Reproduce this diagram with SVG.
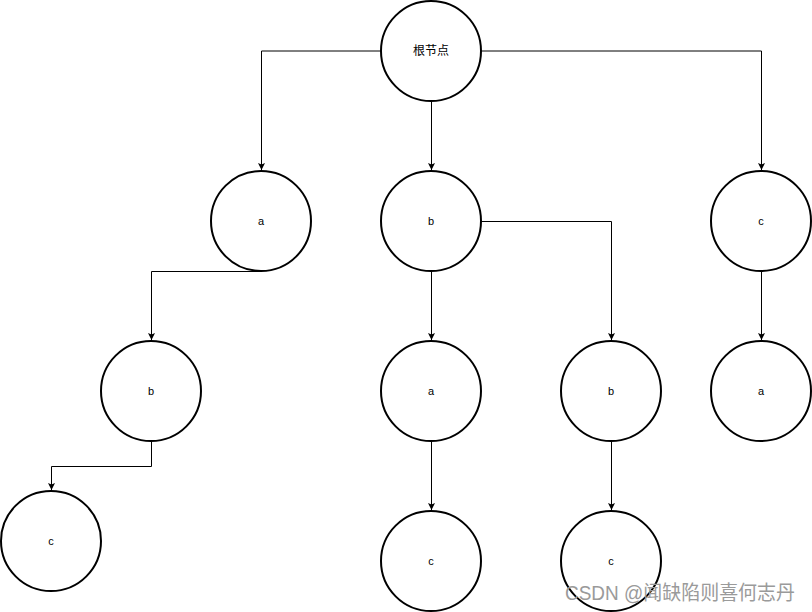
<svg xmlns="http://www.w3.org/2000/svg" width="812" height="612" viewBox="0 0 812 612">
<style>
.n circle{fill:#fff;stroke:#000;stroke-width:2}
.n text{font-family:"Liberation Sans","Noto Sans CJK SC",sans-serif;font-size:11px;text-anchor:middle;dominant-baseline:central;fill:#000}
.e path{fill:none;stroke:#000;stroke-width:1;marker-end:url(#ar)}
.wm{font-family:"Liberation Sans","Noto Sans CJK SC",sans-serif;font-size:20px;fill:#9a9a9a}
</style>
<defs>
<marker id="ar" markerUnits="userSpaceOnUse" markerWidth="8" markerHeight="8" refX="7" refY="4" orient="auto">
<path d="M0,0.5 L7,4 L0,7.5 L1.5,4 Z" fill="#000"/>
</marker>
</defs>
<rect width="812" height="612" fill="#fff"/>
<g class="e" id="connectors">
<path d="M381,51 H261.5 V170"/>
<path d="M431.5,101 V170"/>
<path d="M481,51 H761.5 V170"/>
<path d="M261,271.5 H151.5 V340"/>
<path d="M431.5,271 V340"/>
<path d="M481,221.5 H611.5 V340"/>
<path d="M761.5,271 V340"/>
<path d="M151.5,441 V466.5 H51.5 V490"/>
<path d="M431.5,441 V510"/>
<path d="M611.5,441 V510"/>
</g>
<g class="n" id="root"><circle cx="431" cy="51" r="50"/><text x="431" y="51" style="font-size:12px">根节点</text></g>
<g class="n" id="n_a1"><circle cx="261" cy="221" r="50"/><text x="261" y="221">a</text></g>
<g class="n" id="n_b1"><circle cx="431" cy="221" r="50"/><text x="431" y="221">b</text></g>
<g class="n" id="n_c1"><circle cx="761" cy="221" r="50"/><text x="761" y="221">c</text></g>
<g class="n" id="n_ab"><circle cx="151" cy="391" r="50"/><text x="151" y="391">b</text></g>
<g class="n" id="n_ba"><circle cx="431" cy="391" r="50"/><text x="431" y="391">a</text></g>
<g class="n" id="n_bb"><circle cx="611" cy="391" r="50"/><text x="611" y="391">b</text></g>
<g class="n" id="n_ca"><circle cx="761" cy="391" r="50"/><text x="761" y="391">a</text></g>
<g class="n" id="n_abc"><circle cx="51" cy="541" r="50"/><text x="51" y="541">c</text></g>
<g class="n" id="n_bac"><circle cx="431" cy="561" r="50"/><text x="431" y="561">c</text></g>
<g class="n" id="n_bbc"><circle cx="611" cy="561" r="50"/><text x="611" y="561">c</text></g>
<text class="wm" x="565" y="600" textLength="230" lengthAdjust="spacingAndGlyphs">CSDN @闻缺陷则喜何志丹</text>
</svg>
